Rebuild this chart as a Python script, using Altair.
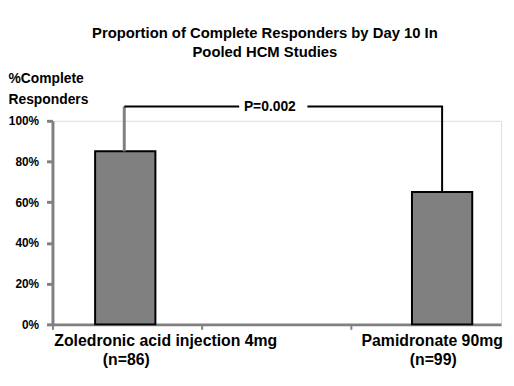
import altair as alt
import pandas as pd

# ---- data ----
categories = ["Zoledronic acid injection 4mg", "Pamidronate 90mg"]
n_labels = ["(n=86)", "(n=99)"]
values = [85, 65]
spacer = " "
x_domain = [categories[0], spacer, categories[1]]
bracket_level = 107
p_text = "P=0.002"
y_ticks = [0, 20, 40, 60, 80, 100]

FONT = "Liberation Sans"
C0 = categories[0]

bars_df = pd.DataFrame({"cat": categories, "value": values, "n": n_labels})
left_df = pd.DataFrame({"cat": [categories[0]], "value": [values[0]], "top": [bracket_level]})
right_df = pd.DataFrame({"cat": [categories[1]], "value": [values[1]], "top": [bracket_level]})
hleft_df = pd.DataFrame({"cat": [categories[0]], "cat2": [spacer], "value": [bracket_level]})
hright_df = pd.DataFrame({"cat": [spacer], "cat2": [categories[1]], "value": [bracket_level]})
p_df = pd.DataFrame({"cat": [spacer], "value": [bracket_level], "label": [p_text]})

xscale = alt.Scale(domain=x_domain, paddingInner=0, paddingOuter=0)
yscale = alt.Scale(domain=[0, 100])
X = alt.X("cat:N", sort=x_domain)

x_enc = alt.X("cat:N", scale=xscale, sort=x_domain,
              axis=alt.Axis(title=None, labels=False, bandPosition=0, tickSize=5,
                            tickColor="#808080", tickWidth=2, domainColor="#808080",
                            domainWidth=3, grid=False))
y_axis = alt.Axis(values=y_ticks, labelExpr="datum.value + '%'", grid=False,
                  title=["%Complete", "Responders"], titleAngle=0, titleAlign="left",
                  titleBaseline="top", titleX=-45, titleY=-50, titleFont=FONT,
                  titleFontSize=14, titleFontWeight="bold", titleColor="black",
                  titleLineHeight=21,
                  labelFont=FONT, labelFontSize=12, labelFontWeight="bold",
                  labelColor="black", labelPadding=8, tickSize=6, tickWidth=3,
                  tickColor="#808080", domainColor="#808080", domainWidth=3)

bars = alt.Chart(bars_df).mark_bar(
    size=61, color="#808080", stroke="black", strokeWidth=2,
    xOffset=alt.expr(f"datum.cat == '{C0}' ? -2 : 16")).encode(
    x=x_enc,
    y=alt.Y("value:Q", scale=yscale, axis=y_axis),
)

left_rule = alt.Chart(left_df).mark_rule(color="#808080", strokeWidth=3, xOffset=-3).encode(
    x=X, y="value:Q", y2="top:Q")
right_rule = alt.Chart(right_df).mark_rule(color="black", strokeWidth=2, xOffset=16).encode(
    x=X, y="value:Q", y2="top:Q")
hleft = alt.Chart(hleft_df).mark_rule(color="black", strokeWidth=2, xOffset=-3,
                                      x2Offset=-38).encode(
    x=X, x2="cat2:N", y="value:Q")
hright = alt.Chart(hright_df).mark_rule(color="black", strokeWidth=2, xOffset=31,
                                        x2Offset=17).encode(
    x=X, x2="cat2:N", y="value:Q")

ptext = alt.Chart(p_df).mark_text(font=FONT, fontSize=14, fontWeight="bold",
                                  color="black", dx=-7).encode(
    x=X, y="value:Q", text="label:N")

lab1 = alt.Chart(bars_df).mark_text(
    font=FONT, fontSize=16, fontWeight="bold", color="black", baseline="alphabetic",
    dx=alt.expr(f"datum.cat == '{C0}' ? 39 : 6"), dy=22).encode(
    x=X, y=alt.datum(0), text="cat:N")
lab2 = alt.Chart(bars_df).mark_text(
    font=FONT, fontSize=16, fontWeight="bold", color="black", baseline="alphabetic",
    dx=alt.expr(f"datum.cat == '{C0}' ? -1 : 7"), dy=41).encode(
    x=X, y=alt.datum(0), text="n:N")

chart = alt.layer(bars, left_rule, right_rule, hleft, hright, ptext, lab1, lab2).properties(
    width=454, height=206,
    autosize=alt.AutoSizeParams(type="none"),
    padding={"left": 45, "top": 112, "right": 5, "bottom": 45},
    title=alt.TitleParams(
        ["Proportion of Complete Responders by Day 10 In", "Pooled HCM Studies"],
        font=FONT, fontSize=15, fontWeight="bold", anchor="middle", dx=-12,
        lineHeight=19, offset=12, color="black"),
).configure_view(stroke=None).configure(background="white")

chart.save("out.html", embed_options={"renderer": "svg", "actions": False})
